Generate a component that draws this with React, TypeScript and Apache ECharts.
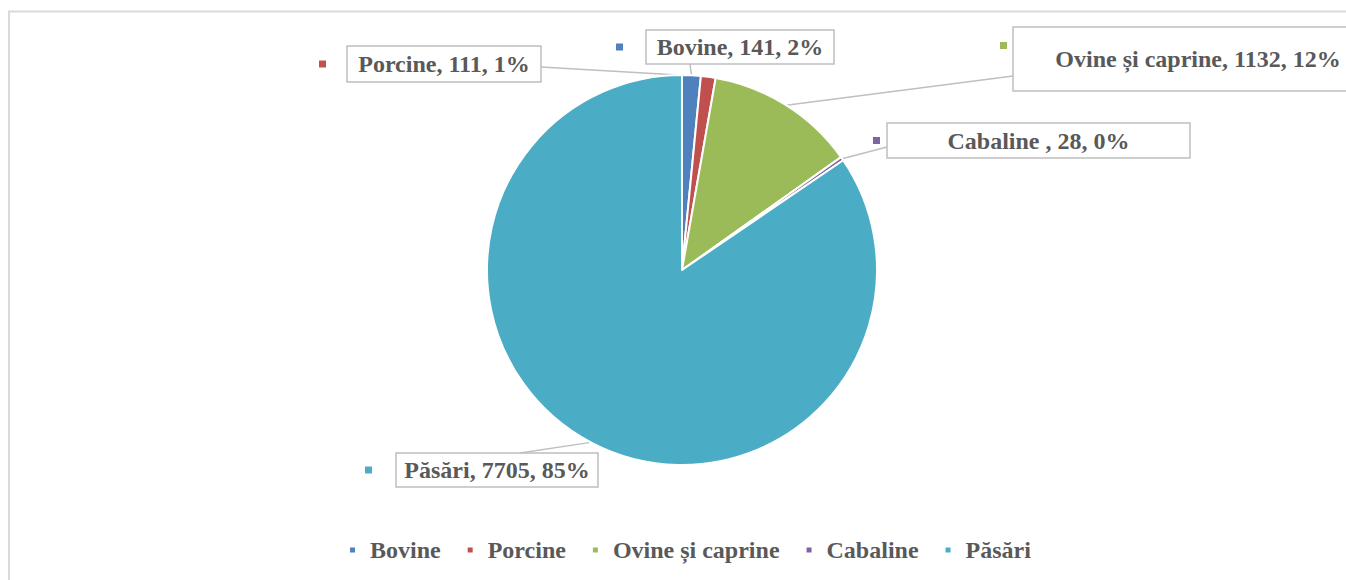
import React, { useEffect, useRef } from 'react';
import * as echarts from 'echarts';

const categories = ['Bovine', 'Porcine', 'Ovine și caprine', 'Cabaline', 'Păsări'];
const labelNames = ['Bovine', 'Porcine', 'Ovine și caprine', 'Cabaline ', 'Păsări'];
const values = [141, 111, 1132, 28, 7705];
const colors = ['#4F81BD', '#C0504D', '#9BBB59', '#8064A2', '#4BACC6'];

// label callout layout (pixels)
const labelBoxes = [
  { markerLeft: 616, boxLeft: 646, boxW: 188, boxTop: 30, boxH: 34, top: false, end: [690, 64] },
  { markerLeft: 319, boxLeft: 347, boxW: 194, boxTop: 46, boxH: 36, top: false, end: [541, 67] },
  { markerLeft: 1000, boxLeft: 1013, boxW: 370, boxTop: 27, boxH: 64, top: true, end: [1013, 76] },
  { markerLeft: 873, boxLeft: 887, boxW: 303, boxTop: 123, boxH: 35, top: false, end: [887, 147] },
  { markerLeft: 365, boxLeft: 396, boxW: 202, boxTop: 453, boxH: 34, top: false, end: [520, 453] },
];

const FONT = 'Liberation Serif';
const TEXT_COLOR = '#595959';

export default function App() {
  const ref = useRef<HTMLDivElement>(null);
  useEffect(() => {
    document.body.style.margin = '0';
    if (!ref.current) return;
    const chart = echarts.init(ref.current, undefined, { renderer: 'svg' });
    const total = values.reduce((a, b) => a + b, 0);

    const rich: any = {};
    labelBoxes.forEach((b, i) => {
      const c = colors[i];
      rich['m' + i] = b.top
        ? {
            width: 7,
            height: 22,
            lineHeight: 22,
            align: 'left',
            verticalAlign: 'top',
            backgroundColor: new echarts.graphic.LinearGradient(0, 0, 0, 1, [
              { offset: 0, color: 'rgba(255,255,255,0)' },
              { offset: 0.68, color: 'rgba(255,255,255,0)' },
              { offset: 0.68, color: c },
              { offset: 1, color: c },
            ]),
          }
        : { width: 7, height: 7, lineHeight: 7, align: 'left', backgroundColor: c };
      rich['g' + i] = { width: b.boxLeft - b.markerLeft - 7, height: 7, align: 'left' };
      rich['t' + i] = {
        width: b.boxW,
        height: b.boxH,
        lineHeight: b.boxH,
        align: 'center',
        borderColor: '#BFBFBF',
        borderWidth: 1.5,
        fontFamily: FONT,
        fontWeight: 'bold',
        fontSize: 24,
        color: TEXT_COLOR,
      };
    });

    chart.setOption({
      animation: false,
      backgroundColor: '#ffffff',
      graphic: [
        {
          type: 'rect',
          shape: { x: 9, y: 11.5, width: 1400, height: 620 },
          style: { fill: 'none', stroke: '#D9D9D9', lineWidth: 2 },
          silent: true,
        },
      ],
      legend: {
        data: categories,
        left: 343,
        top: 533,
        icon: 'rect',
        itemWidth: 7,
        itemHeight: 7,
        itemGap: 25,
        textStyle: {
          fontFamily: FONT,
          fontWeight: 'bold',
          fontSize: 24,
          color: TEXT_COLOR,
          padding: [0, 0, 0, 9],
        },
      },
      series: [
        {
          type: 'pie',
          center: [682, 270],
          radius: 195,
          startAngle: 90,
          clockwise: true,
          avoidLabelOverlap: false,
          itemStyle: { borderColor: '#ffffff', borderWidth: 2 },
          label: {
            show: true,
            position: 'outside',
            formatter: (p: any) => {
              const i = p.dataIndex;
              const pct = Math.round((values[i] / total) * 100);
              return `{m${i}|}{g${i}|}{t${i}|${labelNames[i]}, ${values[i]}, ${pct}%}`;
            },
            rich,
          },
          labelLine: {
            show: true,
            lineStyle: { color: '#BFBFBF', width: 1.5 },
          },
          labelLayout: (params: any) => {
            const i = params.dataIndex;
            const b = labelBoxes[i];
            const p0 = params.labelLinePoints ? params.labelLinePoints[0] : b.end;
            return {
              x: b.markerLeft,
              y: b.boxTop + b.boxH / 2,
              align: 'left',
              verticalAlign: 'middle',
              labelLinePoints: [p0, b.end, b.end],
            };
          },
          data: categories.map((name, i) => ({
            name,
            value: values[i],
            itemStyle: { color: colors[i] },
          })),
        },
      ],
    });
    return () => chart.dispose();
  }, []);
  return <div ref={ref} style={{ width: 1346, height: 580 }} />;
}
